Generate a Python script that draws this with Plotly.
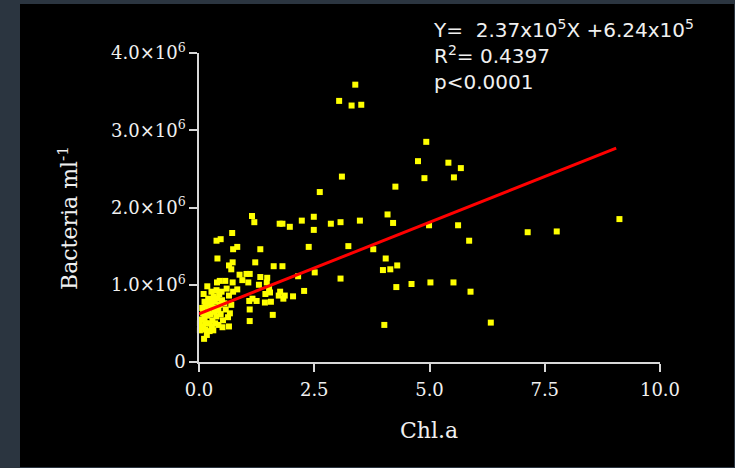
import plotly.graph_objects as go

# Chl.a (x) and bacteria ml-1 in units of 1e6 (y)
chl = [3.39, 3.04, 3.31, 3.52, 4.93, 4.75, 5.41, 5.68, 4.89, 5.53, 3.10, 4.26, 4.09, 4.21, 2.86, 3.07, 3.49,
       4.99, 5.62, 5.86, 3.24, 3.78, 4.05, 3.99, 4.15, 4.30, 3.07, 4.28, 4.61, 5.02, 5.52, 5.89, 4.02, 7.13,
       7.76, 9.12, 6.33,
       2.62, 1.15, 1.20, 1.75, 1.81, 1.97, 2.23, 2.49, 2.49, 1.33, 2.38, 1.22, 1.62, 1.81, 1.10, 2.15, 2.51,
       1.33, 1.48, 1.30, 1.47, 1.52, 1.44, 1.54, 1.76, 1.73, 1.86, 1.83, 2.04, 2.28, 1.16, 1.25, 1.43, 1.56,
       1.10, 1.60, 1.10,
       0.72, 0.38, 0.47, 0.74, 0.83, 0.40, 0.65, 0.73, 0.70, 0.88, 1.03, 0.57, 0.73, 0.94, 1.07, 0.18, 0.39,
       0.45, 0.27, 0.38, 0.49, 0.74, 0.83, 0.65, 1.09, 0.70, 0.55, 0.12, 0.20, 0.27, 0.67, 0.63, 0.65, 0.52,
       0.42, 0.51, 0.02, 0.11, 0.23, 0.31, 0.09, 0.12, 0.15, 0.09, 0.20, 0.27, 0.34, 0.38, 0.29, 0.23, 0.42,
       0.45, 0.34, 0.23,
       0.05, 0.07, 0.15, 0.18, 0.25, 0.32, 0.40, 0.47, 0.05, 0.14, 0.02, 0.35, 0.44, 0.58, 0.10, 0.33, 0.17,
       0.28, 0.50, 0.60]
bact = [3.59, 3.38, 3.32, 3.33, 2.85, 2.60, 2.58, 2.51, 2.38, 2.39, 2.40, 2.27, 1.91, 1.80, 1.79, 1.81, 1.83,
        1.77, 1.77, 1.57, 1.50, 1.46, 1.34, 1.19, 1.20, 1.25, 1.08, 0.97, 1.01, 1.03, 1.03, 0.91, 0.48, 1.68,
        1.69, 1.85, 0.51,
        2.20, 1.89, 1.81, 1.79, 1.79, 1.75, 1.83, 1.88, 1.71, 1.46, 1.49, 1.29, 1.24, 1.24, 1.14, 1.11, 1.16,
        1.10, 1.09, 1.00, 1.03, 0.95, 0.88, 0.90, 0.91, 0.86, 0.86, 0.82, 0.85, 0.92, 0.82, 0.79, 0.77, 0.78,
        0.68, 0.61, 0.53,
        1.67, 1.57, 1.59, 1.46, 1.49, 1.34, 1.25, 1.29, 1.20, 1.13, 1.14, 1.05, 1.03, 1.06, 1.03, 0.98, 1.03,
        1.05, 0.91, 0.93, 0.91, 0.91, 0.94, 0.86, 0.79, 0.74, 0.76, 0.78, 0.82, 0.80, 0.63, 0.58, 0.46, 0.54,
        0.48, 0.45, 0.41, 0.30, 0.40, 0.41, 0.63, 0.57, 0.50, 0.46, 0.67, 0.72, 0.65, 0.59, 0.54, 0.50, 0.67,
        0.74, 0.78, 0.76,
        0.55, 0.70, 0.72, 0.60, 0.62, 0.85, 0.82, 0.62, 0.45, 0.42, 0.50, 0.50, 0.88, 0.68, 0.88, 0.70, 0.35,
        0.45, 0.80, 0.95]
bact = [v * 1e6 for v in bact]

slope = 2.37e5
intercept = 6.24e5
line_x = [0.0, 9.05]
line_y = [slope * x + intercept for x in line_x]

x_ticks = [0, 2.5, 5, 7.5, 10]
x_ticktext = ["0.0", "2.5", "5.0", "7.5", "10.0"]
y_ticks = [0, 1e6, 2e6, 3e6, 4e6]
y_ticktext = ["0", "1.0×10<sup>6</sup>", "2.0×10<sup>6</sup>", "3.0×10<sup>6</sup>", "4.0×10<sup>6</sup>"]

W, H = 735, 468
L, R, T, B = 199, 75, 53, 106
pw, ph = W - L - R, H - T - B


def px(xpix):
    return (xpix - L) / pw


def py(ypix):
    return (H - B - ypix) / ph


fig = go.Figure()
fig.add_trace(go.Scatter(x=chl, y=bact, mode="markers",
                         marker=dict(symbol="square", size=6, color="#ffff00", line=dict(width=0)),
                         cliponaxis=False, showlegend=False))
fig.add_trace(go.Scatter(x=line_x, y=line_y, mode="lines",
                         line=dict(color="#ff0000", width=3), cliponaxis=False, showlegend=False))

axis_common = dict(showgrid=False, zeroline=False, showline=True, linecolor="#d8d8d8", linewidth=1.5,
                   ticks="outside", ticklen=8, tickwidth=1.5, tickcolor="#d8d8d8",
                   tickfont=dict(family="DejaVu Serif", size=18, color="#f0f0f0"))

fig.update_layout(
    width=W, height=H,
    margin=dict(l=L, r=R, t=T, b=B),
    paper_bgcolor="#2b3540",
    plot_bgcolor="rgba(0,0,0,0)",
    xaxis=dict(range=[0, 10], tickvals=x_ticks, ticktext=x_ticktext, ticklabelstandoff=3, **axis_common),
    yaxis=dict(range=[0, 4e6], tickvals=y_ticks, ticktext=y_ticktext, **axis_common),
    shapes=[dict(type="rect", xref="paper", yref="paper", x0=px(20), x1=px(734), y0=py(467), y1=py(4),
                 fillcolor="#000000", line=dict(width=0), layer="below")],
    annotations=[
        dict(text="Y=  2.37x10<sup>5</sup>X +6.24x10<sup>5</sup><br>R<sup>2</sup>= 0.4397<br>p<0.0001",
             xref="paper", yref="paper", x=px(431), y=py(14), xanchor="left", yanchor="top",
             align="left", showarrow=False,
             font=dict(family="DejaVu Sans", size=20, color="#f0f0f0")),
        dict(text="Bacteria ml<sup>-1</sup>", xref="paper", yref="paper", x=px(68), y=py(218),
             textangle=-90, showarrow=False, xanchor="center", yanchor="middle",
             font=dict(family="DejaVu Serif", size=22, color="#f0f0f0")),
        dict(text="Chl.a", xref="paper", yref="paper", x=px(429), y=py(430),
             showarrow=False, xanchor="center", yanchor="middle",
             font=dict(family="DejaVu Serif", size=22, color="#f0f0f0")),
    ],
)

fig.write_html("out.html")
